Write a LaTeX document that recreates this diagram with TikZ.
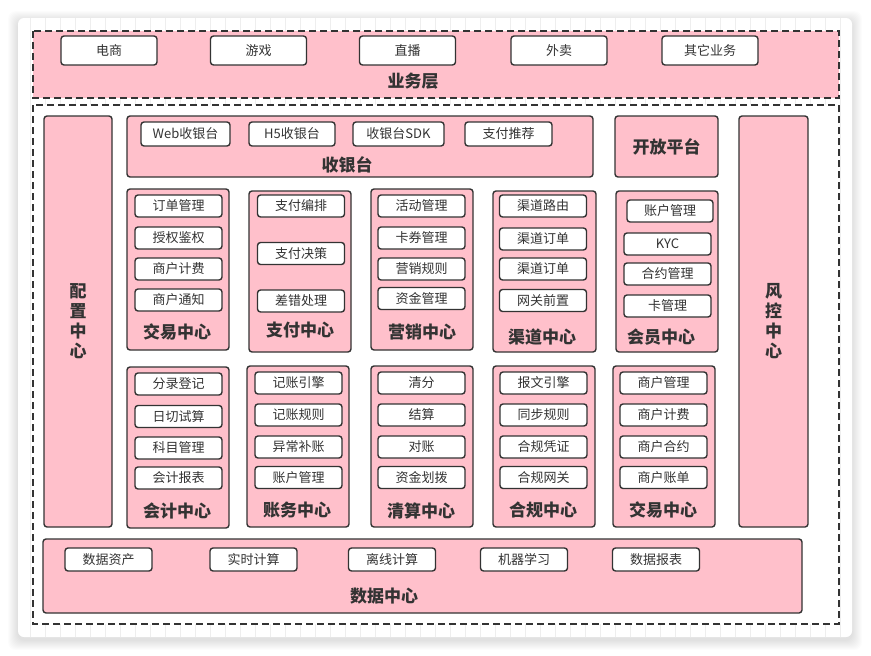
\documentclass[tikz,border=0pt]{standalone}
\usepackage{fontspec}
\setmainfont{Noto Sans CJK SC}
\usepackage{xcolor}
\usepackage{tikz}
\usetikzlibrary{positioning}
\definecolor{boxpink}{HTML}{FFC0CB}
\definecolor{boxline}{HTML}{333333}
\definecolor{gridline}{HTML}{EEEEEE}
\tikzset{
  item/.style={draw=boxline, line width=1.4pt, fill=white, rounded corners=3pt,
    minimum width=87pt, minimum height=22pt, inner sep=0pt,
    font=\fontsize{13}{15}\selectfont, text=boxline},
  centerbox/.style={draw=boxline, line width=1.4pt, fill=boxpink, rounded corners=3pt,
    minimum width=102pt, minimum height=161pt, inner sep=0pt},
  title/.style={font=\fontsize{17}{21}\selectfont\bfseries, text=boxline, align=center},
  dashbox/.style={draw=boxline, line width=1.4pt, dash pattern=on 7pt off 4pt}
}

\begin{document}
\begin{tikzpicture}[x=1pt, y=-1pt]
				\useasboundingbox (0,0) rectangle (871,656);
				% card with soft shadow and grid
				\foreach \s in {1,...,10}
					\fill[black, opacity=0.012, rounded corners=8pt] (18-\s,18-\s+3) rectangle (852+\s,637+\s+3);
				\fill[white, rounded corners=6pt] (18,18) rectangle (852,637);
				\begin{scope}
					\clip[rounded corners=6pt] (18,18) rectangle (852,637);
					\draw[gridline, line width=0.6pt, step=15] (15,15) grid (855,640);
				\end{scope}

				% business layer
				\draw[dashbox, fill=boxpink] (33,31) rectangle (839,98);
				\node[item, minimum width=96pt, minimum height=29pt] (ds) at (109,50.5) {电商};
				\node[item, minimum width=96pt, minimum height=29pt] (yx) at (258.5,50.5) {游戏};
				\node[item, minimum width=96pt, minimum height=29pt] (zb) at (407.5,50.5) {直播};
				\node[item, minimum width=96pt, minimum height=29pt] (wm) at (559,50.5) {外卖};
				\node[item, minimum width=96pt, minimum height=29pt] (qt) at (710,50.5) {其它业务};
				\node[title] (ywc) at (413,81) {业务层};

				% platform layer
				\draw[dashbox, fill=white] (33,105) rectangle (839,624);

				\node[centerbox, minimum width=68pt, minimum height=411pt] (pz) at (78,321.5) {};
				\node[title, font=\fontsize{17}{20}\selectfont\bfseries] at (pz) {配\\置\\中\\心};
				\node[centerbox, minimum width=69pt, minimum height=411pt] (fk) at (773.5,321.5) {};
				\node[title, font=\fontsize{17}{20}\selectfont\bfseries] at (fk) {风\\控\\中\\心};

				% cashier
				\node[centerbox, minimum width=466pt, minimum height=61pt] (syt) at (360,146.5) {};
				\node[item, minimum width=89pt, minimum height=24pt] (web) at (185.5,134) {Web收银台};
				\node[item, minimum width=86pt, minimum height=24pt] (h5) at (292,134) {H5收银台};
				\node[item, minimum width=91pt, minimum height=24pt] (sdk) at (398.5,134) {收银台SDK};
				\node[item, minimum width=87pt, minimum height=24pt] (tj) at (508.5,134) {支付推荐};
				\node[title] at (347,165) {收银台};

				\node[centerbox, minimum width=103pt, minimum height=61pt] (kf) at (666.5,146.5) {};
				\node[title] at (kf) {开放平台};

				% first row of centers
				\node[centerbox] (jy) at (178,269.5) {};
				\node[item] (jy1) at (178.5,206) {订单管理};
				\node[item] (jy2) at (178.5,238) {授权鉴权};
				\node[item] (jy3) at (178.5,269) {商户计费};
				\node[item] (jy4) at (178.5,300) {商户通知};
				\node[title] at (177,332) {交易中心};

				\node[centerbox] (zf) at (300,271.5) {};
				\node[item] (zf1) at (301,206) {支付编排};
				\node[item] (zf2) at (301,253.5) {支付决策};
				\node[item] (zf3) at (301,301) {差错处理};
				\node[title] at (300,330) {支付中心};

				\node[centerbox] (yxzx) at (422,269.5) {};
				\node[item] (yx1) at (421.5,206) {活动管理};
				\node[item] (yx2) at (421.5,238) {卡券管理};
				\node[item] (yx3) at (421.5,269) {营销规则};
				\node[item] (yx4) at (421.5,298.5) {资金管理};
				\node[title] at (422,332) {营销中心};

				\node[centerbox, minimum width=103pt] (qd) at (544.5,271.5) {};
				\node[item] (qd1) at (543,206) {渠道路由};
				\node[item] (qd2) at (543,239) {渠道订单};
				\node[item] (qd3) at (543,269) {渠道订单};
				\node[item] (qd4) at (543,300.5) {网关前置};
				\node[title] at (542,337) {渠道中心};

				\node[centerbox] (hy) at (667,271.5) {};
				\node[item, minimum width=86pt] (hy1) at (670,211) {账户管理};
				\node[item] (hy2) at (667.5,244) {KYC};
				\node[item] (hy3) at (667.5,274) {合约管理};
				\node[item] (hy4) at (667.5,306) {卡管理};
				\node[title] at (661,337) {会员中心};

				% second row of centers
				\node[centerbox] (kj) at (178,447.5) {};
				\node[item] (kj1) at (178.5,384) {分录登记};
				\node[item] (kj2) at (178.5,416.5) {日切试算};
				\node[item] (kj3) at (178.5,448) {科目管理};
				\node[item] (kj4) at (178.5,478) {会计报表};
				\node[title] at (177,511) {会计中心};

				\node[centerbox] (zw) at (298,446.5) {};
				\node[item] (zw1) at (298.5,383) {记账引擎};
				\node[item] (zw2) at (298.5,415) {记账规则};
				\node[item] (zw3) at (298.5,447) {异常补账};
				\node[item] (zw4) at (298.5,477.5) {账户管理};
				\node[title] at (297,510) {账务中心};

				\node[centerbox] (qs) at (422,446.5) {};
				\node[item] (qs1) at (421.5,383) {清分};
				\node[item] (qs2) at (421.5,415) {结算};
				\node[item] (qs3) at (421.5,447) {对账};
				\node[item] (qs4) at (421.5,477.5) {资金划拨};
				\node[title] at (421,511) {清算中心};

				\node[centerbox] (hg) at (544,446.5) {};
				\node[item] (hg1) at (543.5,383) {报文引擎};
				\node[item] (hg2) at (543.5,415) {同步规则};
				\node[item] (hg3) at (543.5,447) {合规凭证};
				\node[item] (hg4) at (543.5,477.5) {合规网关};
				\node[title] at (543,510) {合规中心};

				\node[centerbox] (sh) at (664,446.5) {};
				\node[item] (sh1) at (663.5,383) {商户管理};
				\node[item] (sh2) at (663.5,415) {商户计费};
				\node[item] (sh3) at (663.5,447) {商户合约};
				\node[item] (sh4) at (663.5,477.5) {商户账单};
				\node[title] at (663,510) {交易中心};

				% data center
				\node[centerbox, minimum width=759pt, minimum height=74pt] (sj) at (422.5,576) {};
				\node[item, minimum height=23pt] (sj1) at (108.5,559.5) {数据资产};
				\node[item, minimum height=23pt] (sj2) at (253.5,559.5) {实时计算};
				\node[item, minimum height=23pt] (sj3) at (392,559.5) {离线计算};
				\node[item, minimum height=23pt] (sj4) at (524,559.5) {机器学习};
				\node[item, minimum height=23pt] (sj5) at (656,559.5) {数据报表};
				\node[title] at (384,596) {数据中心};
			\end{tikzpicture}
\end{document}
